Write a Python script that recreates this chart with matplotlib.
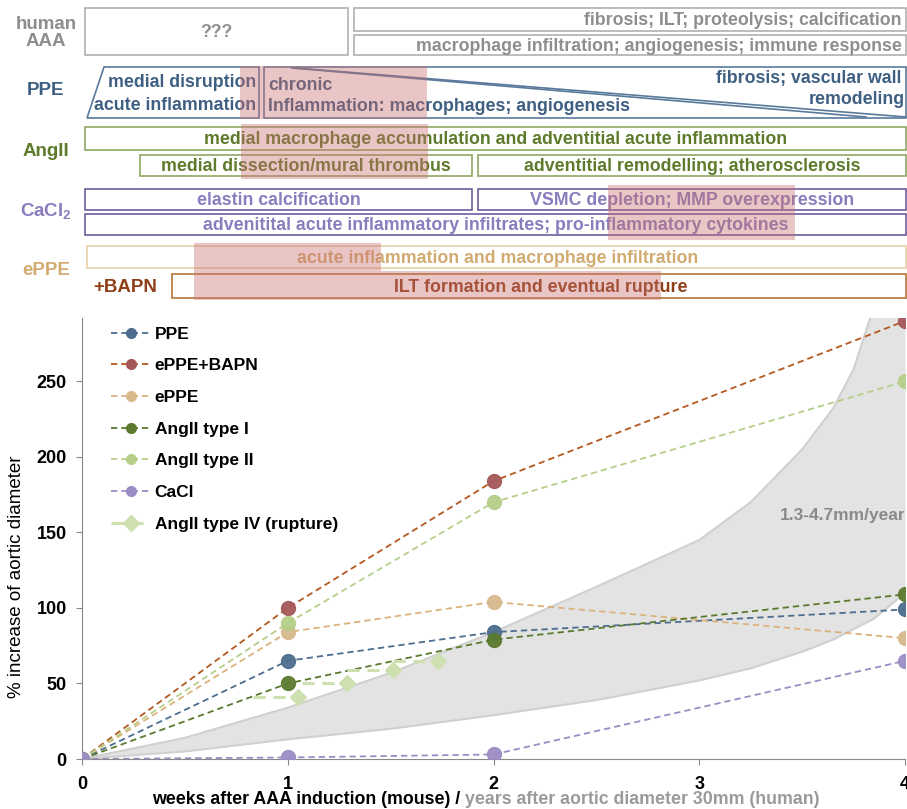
import matplotlib
matplotlib.use('Agg')
from matplotlib import pyplot as plt
from matplotlib import rc
from matplotlib.lines import Line2D
from matplotlib.patches import Rectangle, Polygon

rc('font', family='Liberation Sans', weight='bold')
rc('mathtext', fontset='custom', bf='Liberation Sans:bold', rm='Liberation Sans:bold')

# growth curves (% increase of aortic diameter)
weeks = [0, 1, 2, 4]
ppe = [0, 65, 84, 99]
eppe_bapn = [0, 100, 184, 290]
eppe = [0, 84, 104, 80]
ang_type1 = [0, 50, 79, 109]
ang_type2 = [0, 90, 170, 250]
cacl = [0, 1, 3, 65]
rupture_x = [1.05, 1.29, 1.51, 1.73]
rupture_y = [41, 50, 59, 65]

# human growth band (1.3-4.7 mm/year)
band_x = [0, 0.5, 1, 1.5, 2, 2.5, 3, 3.25, 3.5, 3.65, 3.75, 3.85, 4]
band_upper = [0, 14, 34, 57, 84, 114, 145, 170, 205, 232, 258, 300, 380]
band_lower = [0, 5, 13, 20, 29, 39, 52, 60, 71, 79, 86, 93, 110]

labels = ['PPE', 'ePPE+BAPN', 'ePPE', 'AngII type I', 'AngII type II', 'CaCl']
line_colors = ['#4d6d8e', '#b4581f', '#dcb27d', '#5b7a2e', '#b5cf88', '#9c8cc4']
marker_colors = ['#4d6d8e', '#a5585a', '#d8b98e', '#5b7a2e', '#b5cf88', '#9c8cc4']
rupture_color = '#cfe0b0'

fig = plt.figure(figsize=(9.07, 8.09), dpi=100)

# ---------------- top: mechanism diagram (pixel coords) ----------------
top = fig.add_axes([0, 0.6168, 1, 0.3832])
top.set_xlim(0, 907)
top.set_ylim(310, 0)
top.axis('off')

grey_t, grey_e = '#8e8e8e', '#b0b0b0'
ppe_t, ppe_e = '#3e5f82', '#5a7a9c'
ang_t, ang_e = '#5e7b2c', '#8fa862'
ca_t, ca_e = '#8a7cbd', '#6e5e9c'
ep_t, ep_e = '#d2ab70', '#e6cfa6'
ba_t, ba_e = '#8e3f16', '#b5743a'

fs = 12.8
row_labels = [('human\nAAA', 46, 33, grey_t), ('PPE', 46, 90, ppe_t), ('AngII', 46, 151, ang_t),
              (r'CaCl$_\mathbf{2}$', 46, 212, ca_t), ('ePPE', 46, 270, ep_t), ('+BAPN', 125, 287, ba_t)]
for txt, x, y, c in row_labels:
    top.text(x, y, txt, color=c, ha='center', va='center', fontsize=13.5, linespacing=1.0)

# (x0, y0, x1, y1, text, text x, align, edge, text colour)
boxes = [
    (85, 8, 348, 55, '???', 216, 'center', grey_e, grey_t),
    (354, 8, 906, 31, 'fibrosis; ILT; proteolysis; calcification', 902, 'right', grey_e, grey_t),
    (354, 35, 906, 55, 'macrophage infiltration; angiogenesis; immune response', 902, 'right', grey_e, grey_t),
    (85, 127, 906, 150, 'medial macrophage accumulation and adventitial acute inflammation', 496, 'center', ang_e, ang_t),
    (140, 155, 472, 176, 'medial dissection/mural thrombus', 306, 'center', ang_e, ang_t),
    (478, 155, 906, 176, 'adventitial remodelling; atherosclerosis', 692, 'center', ang_e, ang_t),
    (85, 189, 472, 210, 'elastin calcification', 279, 'center', ca_e, ca_t),
    (478, 189, 906, 210, 'VSMC depletion; MMP overexpression', 692, 'center', ca_e, ca_t),
    (85, 214, 906, 235, 'advenitital acute inflammatory infiltrates; pro-inflammatory cytokines', 496, 'center', ca_e, ca_t),
    (87, 246, 906, 268, 'acute inflammation and macrophage infiltration', 498, 'center', ep_e, ep_t),
    (172, 274, 906, 298, 'ILT formation and eventual rupture', 541, 'center', ba_e, ba_t),
]
for x0, y0, x1, y1, txt, tx, ha, ec, tc in boxes:
    top.add_patch(Rectangle((x0, y0), x1 - x0, y1 - y0, fill=False, ec=ec, lw=1.2))
    top.text(tx, (y0 + y1) / 2 + 1, txt, color=tc, ha=ha, va='center', fontsize=fs)

# PPE row: slanted box and wedge
top.add_patch(Polygon([(104, 67), (259, 67), (259, 118), (87, 118)], closed=True, fill=False, ec=ppe_e, lw=1.2))
top.add_patch(Rectangle((264, 67), 642, 51, fill=False, ec=ppe_e, lw=1.2))
top.plot([292, 866], [68, 117], color=ppe_e, lw=1.2)
top.plot([296, 906], [68, 117], color=ppe_e, lw=1.2)
top.text(256, 82, 'medial disruption', color=ppe_t, ha='right', va='center', fontsize=fs)
top.text(256, 105, 'acute inflammation', color=ppe_t, ha='right', va='center', fontsize=fs)
top.text(268, 85, 'chronic', color=ppe_t, ha='left', va='center', fontsize=fs)
top.text(268, 106, 'Inflammation: macrophages; angiogenesis', color=ppe_t, ha='left', va='center', fontsize=fs)
top.text(901, 78, 'fibrosis; vascular wall', color=ppe_t, ha='right', va='center', fontsize=fs)
top.text(905, 99, 'remodeling', color=ppe_t, ha='right', va='center', fontsize=fs)

# pink highlights
for x0, y0, x1, y1 in [(240, 66, 427, 119), (241, 124, 428, 179), (608, 185, 795, 240),
                       (194, 243, 381, 271), (194, 271, 661, 300)]:
    top.add_patch(Rectangle((x0, y0), x1 - x0, y1 - y0, fc='#c87070', ec='none', alpha=0.4, zorder=5))

# ---------------- bottom: growth chart ----------------
ax = fig.add_axes([82 / 907, 50 / 809, 823 / 907, 441 / 809])

ax.fill_between(band_x, band_lower, band_upper, color='#e3e3e3', lw=0, zorder=0)
ax.plot(band_x, band_upper, color='#d0d0d0', lw=1.5, zorder=0.5)
ax.plot(band_x, band_lower, color='#d0d0d0', lw=1.5, zorder=0.5)
ax.text(3.39, 161, '1.3-4.7mm/year', color='#8a8a8a', fontsize=12.5, va='center', ha='left', clip_on=False)

series = [ppe, eppe_bapn, eppe, ang_type1, ang_type2, cacl]
for lab, vals, lc, mc in zip(labels, series, line_colors, marker_colors):
    ax.plot(weeks, vals, linestyle='--', dashes=(3.5, 2.2), lw=1.3, color=lc, zorder=3)
    ax.plot(weeks, vals, linestyle='none', marker='o', ms=10, mfc=mc, mec=mc, alpha=0.95, zorder=4)

for x, y in zip(rupture_x, rupture_y):
    ax.plot([x - 0.22, x], [y, y], linestyle='--', dashes=(4, 2.5), lw=2.2, color=rupture_color, zorder=3)
ax.plot(rupture_x, rupture_y, linestyle='none', marker='D', ms=8, color=rupture_color, zorder=4)

handles = [Line2D([], [], linestyle='--', dashes=(3.5, 2.2), lw=1.3, color=lc, marker='o', ms=7, mfc=mc, mec=mc)
           for lc, mc in zip(line_colors, marker_colors)]
handles.append(Line2D([], [], linestyle='--', dashes=(4, 2.5), lw=2.2, color=rupture_color, marker='D', ms=8))
ax.legend(handles, labels + ['AngII type IV (rupture)'], loc='upper left', bbox_to_anchor=(0.025, 1.0),
          frameon=False, fontsize=12.5, handlelength=2.25, labelspacing=0.95, borderaxespad=0.1,
          handletextpad=0.25)

ax.set_xlim(0, 4)
ax.set_ylim(0, 292)
ax.set_xticks([0, 1, 2, 3, 4])
ax.set_yticks([0, 50, 100, 150, 200, 250])
ax.tick_params(labelsize=13, color='#888888', length=4)
ax.tick_params(axis='x', pad=8)
ax.tick_params(axis='y', pad=7)
for s in ['top', 'right']:
    ax.spines[s].set_visible(False)
for s in ['left', 'bottom']:
    ax.spines[s].set_color('#888888')
ax.set_ylabel('% increase of aortic diameter', fontsize=13.5)
ax.yaxis.set_label_coords(-0.069, 0.413)

t1 = fig.text(152 / 907, 9 / 809, 'weeks after AAA induction (mouse) / ', fontsize=12.8, va='center', ha='left')
ax.annotate('years after aortic diameter 30mm (human)', xy=(1, 0), xycoords=t1, va='bottom', ha='left',
            fontsize=12.8, color='#9a9a9a', annotation_clip=False)

fig.savefig('out.png', dpi=100)
